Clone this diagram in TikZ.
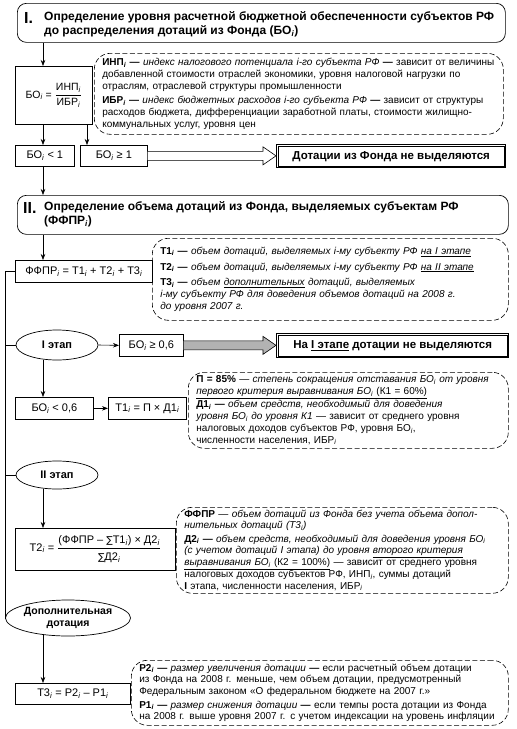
\documentclass[tikz,border=0pt]{standalone}
\usepackage{fontspec}
\setmainfont{Liberation Sans}
\newfontfamily\djv{DejaVu Sans}
\usetikzlibrary{shapes.geometric,calc,arrows.meta}
\newcommand{\sbi}{\textsubscript{\itshape i}}
\newcommand{\sumsign}{{\djv\fontsize{9.5}{11}\selectfont ∑}}
\newcommand{\harrow}[3]{\draw[line width=0.6pt, fill=#3] let \p1=(#1.east), \p2=(#2.west) in (\x1,\y1+4.5pt) -- (\x2-13pt,\y1+4.5pt) -- (\x2-13pt,\y1+9pt) -- (\x2,\y1) -- (\x2-13pt,\y1-9pt) -- (\x2-13pt,\y1-4.5pt) -- (\x1,\y1-4.5pt);}
\newcommand{\innerframe}[1]{\draw[line width=0.5pt] ($(#1.north west)+(2.6pt,-2.6pt)$) rectangle ($(#1.south east)+(-2.6pt,2.6pt)$);}
\begin{document}
\begin{tikzpicture}[x=1pt,y=-1pt,
  line/.style={line width=0.6pt},
  arr/.style={-{Stealth[length=6pt,width=4.5pt]}, line width=0.6pt},
  box/.style={draw, line width=0.7pt, inner sep=0pt, anchor=north west, font=\fontsize{11}{13}\selectfont},
  hdr/.style={draw, line width=0.7pt, rounded corners=9pt, anchor=north west},
  hdrtxt/.style={anchor=west, align=left, font=\fontsize{12}{14.5}\selectfont\bfseries, inner sep=0pt},
  num/.style={anchor=west, font=\fontsize{16}{16}\selectfont\bfseries, inner sep=0pt},
  callout/.style={draw, dash pattern=on 5pt off 2.5pt, line width=0.6pt, rounded corners=16pt, anchor=north west, align=left, inner xsep=8pt, inner ysep=0pt, font=\fontsize{10}{11.8}\selectfont},
  oval/.style={draw, ellipse, line width=0.7pt, inner sep=0pt, font=\fontsize{11}{13}\selectfont\bfseries, align=center},
  nofund/.style={draw, line width=1.4pt, inner sep=0pt, anchor=north west, font=\fontsize{11.5}{13}\selectfont\bfseries}]
\useasboundingbox (0,0) rectangle (517,729);
\coordinate (tx) at (43,0);
\coordinate (t2x) at (87,0);
\coordinate (lx) at (5,0);

% ---- Part I
\node[hdr, minimum width=488pt, minimum height=39pt] (hI) at (17,3) {};
\node[num] (nI) at (24,17.5) {I.};
\node[hdrtxt] (tI) at (44,24.5) {Определение уровня расчетной бюджетной обеспеченности субъектов РФ\\до распределения дотаций из Фонда (БО\sbi)};

\node[box, font=\fontsize{10.5}{13}\selectfont, minimum width=77pt, minimum height=58pt] (bo) at (15,66) {БО\sbi{} = $\displaystyle\frac{\mbox{ИНП\sbi}}{\mbox{ИБР\sbi}}$};
\node[callout, text width=393pt, minimum height=81pt] (c1) at (94,53) {\textbf{ИНП\sbi{} —} \textit{индекс налогового потенциала i-го субъекта РФ} \textbf{—} зависит от величины\\
добавленной стоимости отраслей экономики, уровня налоговой нагрузки по\\
отраслям, отраслевой структуры промышленности\\[2.5pt]
\textbf{ИБР\sbi{} —} \textit{индекс бюджетных расходов i-го субъекта РФ} \textbf{—} зависит от структуры\\
расходов бюджета, дифференциации заработной платы, стоимости жилищно-\\
коммунальных услуг, уровня цен};
\draw[arr] (tx |- hI.south) -- (tx |- bo.north);

\node[box, minimum width=59pt, minimum height=21pt] (blt) at (15,145) {БО\sbi{} < 1};
\node[box, minimum width=67pt, minimum height=21pt] (bge) at (80,145) {БО\sbi{} ≥ 1};
\draw[arr] (tx |- bo.south) -- (tx |- blt.north);
\draw[arr] (t2x |- bo.south) -- (t2x |- bge.north);
\node[nofund, minimum width=229pt, minimum height=23pt] (nf1) at (276,144) {Дотации из Фонда не выделяются};
\innerframe{nf1}
\harrow{bge}{nf1}{white}

% ---- Part II
\node[hdr, minimum width=491pt, minimum height=39pt] (hII) at (17,195) {};
\node[num] (nII) at (23,207.5) {II.};
\node[hdrtxt] (tII) at (44,214.5) {Определение объема дотаций из Фонда, выделяемых субъектам РФ\\(ФФПР\sbi)};
\draw[arr] (tx |- blt.south) -- (tx |- hII.north);

\node[box, minimum width=137pt, minimum height=22pt] (ffpr) at (15,260) {ФФПР\sbi{} = Т1\sbi{} + Т2\sbi{} + Т3\sbi};
\node[callout, text width=340pt, minimum height=82pt] (c2) at (152,238) {\textbf{Т1\sbi{} —} \textit{объем дотаций, выделяемых i-му субъекту РФ \underline{на I этапе}}\\[4pt]
\textbf{Т2\sbi{} —} \textit{объем дотаций, выделяемых i-му субъекту РФ \underline{на II этапе}}\\[4pt]
\textbf{Т3\sbi{} —} \textit{объем \underline{дополнительных} дотаций, выделяемых}\\
\textit{i-му субъекту РФ для доведения объемов дотаций на 2008 г.}\\
\textit{до уровня 2007 г.}};
\draw[arr] (tx |- hII.south) -- (tx |- ffpr.north);

% stage I
\node[oval, minimum width=82pt, minimum height=30pt] (e1) at (57,345) {I этап};
\node[box, minimum width=64pt, minimum height=22pt] (b06) at (119,334) {БО\sbi{} ≥ 0,6};
\draw[arr] (e1.east) -- (b06.west);
\node[nofund, minimum width=232pt, minimum height=24pt] (nf2) at (276,333) {На \underline{I этапе} дотации не выделяются};
\innerframe{nf2}
\harrow{b06}{nf2}{black!30}

\node[box, minimum width=78pt, minimum height=22pt] (bl06) at (15,397) {БО\sbi{} < 0,6};
\node[box, minimum width=78pt, minimum height=22pt] (t1) at (108,397) {Т1\sbi{} = П × Д1\sbi};
\draw[arr] (tx |- e1.south) -- (tx |- bl06.north);
\draw[arr] (bl06.east) -- (t1.west);
\node[callout, text width=304pt, minimum height=76pt] (c3) at (188,372) {\textbf{П = 85\%} — \textit{степень сокращения отставания БО\sbi{} от уровня}\\
\underline{\textit{первого критерия выравнивания БО\sbi{}} (К1 = 60\%)}\\[1.5pt]
\textbf{Д1\sbi{} —} \textit{объем средств, необходимый для доведения}\\
\textit{уровня БО\sbi{} до уровня К1} — зависит от среднего уровня\\
налоговых доходов субъектов РФ, уровня БО\sbi,\\
численности населения, ИБР\sbi};

% stage II
\node[oval, minimum width=82pt, minimum height=28pt] (e2) at (57,475) {II этап};
\node[box, minimum width=160pt, minimum height=42pt] (t2) at (15,528) {Т2\sbi{} = $\displaystyle\frac{\mbox{(ФФПР – \sumsign Т1\sbi) × Д2\sbi}}{\mbox{\rule{0pt}{11pt}\sumsign Д2\sbi}}$};
\draw[arr] (tx |- e2.south) -- (tx |- t2.north);
\node[callout, text width=316pt, minimum height=86pt] (c4) at (176,507) {\textbf{ФФПР} — \textit{объем дотаций из Фонда без учета объема допол-}\\
\textit{нительных дотаций (Т3\sbi)}\\[1.5pt]
\textbf{Д2\sbi{} —} \textit{объем средств, необходимый для доведения уровня БО\sbi}\\
\textit{(с учетом дотаций I этапа) до уровня \underline{второго критерия}}\\
\underline{\textit{выравнивания БО\sbi{}} (К2 = 100\%)} — зависит от среднего уровня\\
налоговых доходов субъектов РФ, ИНП\sbi, суммы дотаций\\
\textbf{I} этапа, численности населения, ИБР\sbi};

% additional
\node[oval, font=\fontsize{10.5}{12.5}\selectfont\bfseries, minimum width=107pt, minimum height=36pt] (e3) at (68,618) {Дополнительная\\дотация};
\node[box, minimum width=115pt, minimum height=21pt] (t3) at (15,683) {Т3\sbi{} = Р2\sbi{} – Р1\sbi};
\draw[arr] ($(tx |- e3.south)+(0,-2)$) -- (tx |- t3.north);
\node[callout, text width=361pt, minimum height=65pt] (c5) at (131,660) {\textbf{Р2\sbi{} —} \textit{размер увеличения дотации} \textbf{—} если расчетный объем дотации\\
из Фонда на 2008 г. меньше, чем объем дотации, предусмотренный\\
Федеральным законом «О федеральном бюджете на 2007 г.»\\[1.5pt]
\textbf{Р1\sbi{} —} \textit{размер снижения дотации} \textbf{—} если темпы роста дотации из Фонда\\
на 2008 г. выше уровня 2007 г. с учетом индексации на уровень инфляции};

% left trunk
\draw[line] (ffpr.west) -- (lx |- ffpr.west) -- (lx |- e3.west) -- (e3.west);
\draw[line] (lx |- e1.west) -- (e1.west);
\draw[line] (lx |- e2.west) -- (e2.west);
\end{tikzpicture}
\end{document}
